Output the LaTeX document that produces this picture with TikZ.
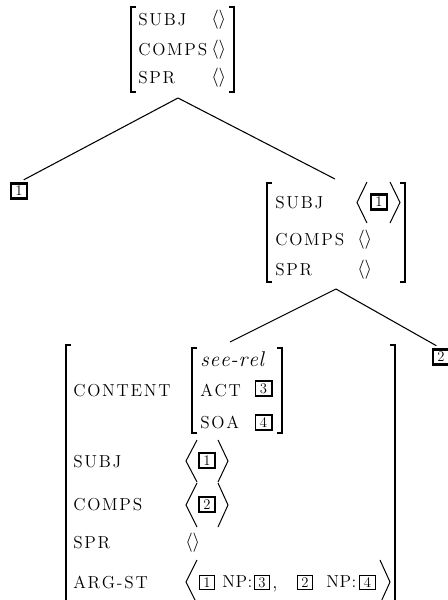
\documentclass[tikz,border=0pt]{standalone}
\makeatletter
\newcommand\spacedsc[2][1.3pt]{\@tfor\spacedsc@c:=#2\do{\spacedsc@c\kern#1\relax}\unkern}
\makeatother
\begin{document}
\begin{tikzpicture}[x=0.75pt,y=-0.75pt,
  lbl/.style={anchor=west,inner sep=0pt,font=\fontsize{13}{15}\selectfont},
  itl/.style={anchor=west,inner sep=0pt,font=\fontsize{16}{19}\selectfont\itshape},
  emp/.style={anchor=west,inner sep=0pt,font=\fontsize{15}{18}\selectfont},
  bxA/.style={draw,line width=1.8pt,inner sep=0pt,minimum width=12.2pt,minimum height=11.2pt,font=\fontsize{11}{12}\selectfont},
  bxB/.style={bxA,line width=1.3pt,minimum width=12.2pt,minimum height=11.2pt},
  bxC/.style={bxA,line width=0.9pt,minimum width=11.8pt,minimum height=11pt},
  brk/.style={line width=1.7pt},
  ang/.style={line width=0.75pt},
  tree/.style={line width=0.8pt}
]
\useasboundingbox (0,0) rectangle (448,600);

% ---------- top AVM ----------
\draw[brk] (136,7) -- (131,7) -- (131,92) -- (136,92);
\draw[brk] (229,7) -- (234,7) -- (234,92) -- (229,92);
\node[lbl] (tsubj) at (138,20) {\spacedsc{SUBJ}};
\node[lbl] (tcomps) at (138,50) {\spacedsc{COMPS}};
\node[lbl] (tspr) at (138,78) {\spacedsc{SPR}};
\node[emp] (tsubjv) at (211,20) {$\langle\rangle$};
\node[emp] (tcompsv) at (211,50) {$\langle\rangle$};
\node[emp] (tsprv) at (211,78) {$\langle\rangle$};
\coordinate (apex1) at (178,98);

% ---------- left daughter ----------
\node[bxA] (n1) at (19,191) {1};

% ---------- right AVM ----------
\coordinate (Rtop) at (335,179);
\draw[brk] (272,183) -- (267,183) -- (267,282) -- (272,282);
\draw[brk] (400,183) -- (405,183) -- (405,282) -- (400,282);
\node[lbl] (rsubj) at (275,203) {\spacedsc{SUBJ}};
\node[lbl] (rcomps) at (275,240) {\spacedsc{COMPS}};
\node[lbl] (rspr) at (275,270) {\spacedsc{SPR}};
\draw[ang] (367,182) -- (357,202.5) -- (367,223);
\node[bxA] (rb1) at (379,202) {1};
\draw[ang] (390,182) -- (400,202.5) -- (390,223);
\node[emp] (rcompsv) at (357,240) {$\langle\rangle$};
\node[emp] (rsprv) at (357,270) {$\langle\rangle$};
\coordinate (apex2) at (336,289);

% ---------- right daughter ----------
\node[bxA] (n2) at (441,357) {2};

% ---------- big AVM ----------
\coordinate (Btop) at (230,342);
\draw[brk] (71,345) -- (66,345) -- (66,620);
\draw[brk] (390,345) -- (395,345) -- (395,620);
\node[lbl] (bcont) at (73,391) {\spacedsc{CONTENT}};
\draw[brk] (197,348) -- (192,348) -- (192,433) -- (197,433);
\draw[brk] (277,348) -- (282,348) -- (282,433) -- (277,433);
\node[itl] (rel) at (200,359) {\spacedsc[0.6pt]{see-rel}};
\node[lbl] (act) at (200,390) {\spacedsc{ACT}};
\node[bxB] (b3) at (263.5,388.5) {3};
\node[lbl] (soa) at (200,422) {\spacedsc{SOA}};
\node[bxB] (b4) at (263.5,422.5) {4};

\node[lbl] (bsubj) at (73,462) {\spacedsc{SUBJ}};
\draw[ang] (197,440) -- (186,461) -- (197,482);
\node[bxA] (bs1) at (207,460.5) {1};
\draw[ang] (218,440) -- (228,461) -- (218,482);

\node[lbl] (bcomps) at (73,505) {\spacedsc{COMPS}};
\draw[ang] (197,483) -- (186,505) -- (197,527);
\node[bxA] (bc2) at (207,504.5) {2};
\draw[ang] (218,483) -- (228,505) -- (218,527);

\node[lbl] (bspr) at (73,543) {\spacedsc{SPR}};
\node[emp] (bsprv) at (185,543) {$\langle\rangle$};

\node[lbl] (barg) at (73,582) {\spacedsc{ARG-ST}};
\draw[ang] (197,560) -- (186,582) -- (197,604);
\node[bxC] (a1) at (207,582.5) {1};
\node[lbl] (np1) at (222,582) {\spacedsc[0.4pt]{NP:}};
\node[bxC] (a3) at (262,582.5) {3};
\node[anchor=base west,inner sep=0pt,font=\fontsize{14}{16}\selectfont] (comma) at (272,588) {,};
\node[bxC] (a2) at (305,582.5) {2};
\node[lbl] (np2) at (326,582) {\spacedsc[0.4pt]{NP:}};
\node[bxC] (a4) at (367.5,582.5) {4};
\draw[ang] (380,560) -- (390,582) -- (380,604);

% ---------- tree ----------
\draw[tree,shorten >=4pt] (apex1) -- (n1.north);
\draw[tree] (apex1) -- (Rtop);
\draw[tree] (apex2) -- (Btop);
\draw[tree,shorten >=4pt] (apex2) -- (n2.north);
\end{tikzpicture}
\end{document}
